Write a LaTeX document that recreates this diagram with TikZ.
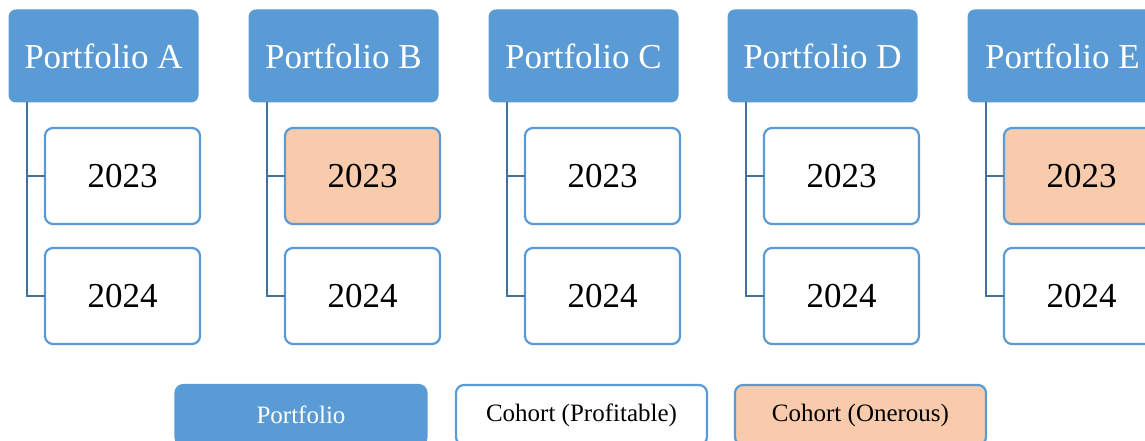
\documentclass[tikz,border=0pt]{standalone}
\usepackage{fontspec}
\setmainfont{Liberation Serif}
\usetikzlibrary{positioning}

\definecolor{portblue}{HTML}{5B9BD5}
\definecolor{linkblue}{HTML}{41719C}
\definecolor{onerous}{HTML}{F8CBAD}

\begin{document}
\begin{tikzpicture}[x=1pt,y=1pt,
      portfolio/.style={draw=portblue, fill=portblue, rounded corners=7pt, line width=1pt,
         minimum width=189pt, minimum height=92pt, outer sep=0pt, text=white,
         font=\fontsize{35}{40}\selectfont, align=center},
      cohort/.style={draw=portblue, fill=white, rounded corners=8pt, line width=2.2pt,
         minimum width=155pt, minimum height=96pt, outer sep=0pt,
         font=\fontsize{35}{40}\selectfont, align=center},
      bad/.style={cohort, fill=onerous},
      key/.style={draw=portblue, rounded corners=8pt, line width=2.2pt,
         minimum width=251pt, minimum height=60pt, outer sep=0pt,
         font=\fontsize{25}{30}\selectfont},
      link/.style={draw=linkblue, line width=2.8pt}
   ]
      \useasboundingbox (0,0) rectangle (1145,441);

      \node[portfolio] (PA) at (103.5,385) {Portfolio A};
      \node[portfolio] (PB) at (343.5,385) {Portfolio B};
      \node[portfolio] (PC) at (583.5,385) {Portfolio C};
      \node[portfolio] (PD) at (822.5,385) {Portfolio D};
      \node[portfolio] (PE) at (1062.5,385) {Portfolio E};

      \node[cohort, below right=26pt and 36pt of PA.south west, anchor=north west] (A23) {2023};
      \node[cohort, below=24pt of A23] (A24) {2024};
      \node[bad, below right=26pt and 36pt of PB.south west, anchor=north west] (B23) {2023};
      \node[cohort, below=24pt of B23] (B24) {2024};
      \node[cohort, below right=26pt and 36pt of PC.south west, anchor=north west] (C23) {2023};
      \node[cohort, below=24pt of C23] (C24) {2024};
      \node[cohort, below right=26pt and 36pt of PD.south west, anchor=north west] (D23) {2023};
      \node[cohort, below=24pt of D23] (D24) {2024};
      \node[bad, below right=26pt and 36pt of PE.south west, anchor=north west] (E23) {2023};
      \node[cohort, below=24pt of E23] (E24) {2024};

      \draw[link] ([xshift=18pt]PA.south west) |- (A24.west);
      \draw[link] ([xshift=18pt]PA.south west) |- (A23.west);
      \draw[link] ([xshift=18pt]PB.south west) |- (B24.west);
      \draw[link] ([xshift=18pt]PB.south west) |- (B23.west);
      \draw[link] ([xshift=18pt]PC.south west) |- (C24.west);
      \draw[link] ([xshift=18pt]PC.south west) |- (C23.west);
      \draw[link] ([xshift=18pt]PD.south west) |- (D24.west);
      \draw[link] ([xshift=18pt]PD.south west) |- (D23.west);
      \draw[link] ([xshift=18pt]PE.south west) |- (E24.west);
      \draw[link] ([xshift=18pt]PE.south west) |- (E23.west);

      % legend
      \node[key, fill=portblue, text=white] (KP) at (301,26) {Portfolio};
      \node[key, fill=white] (KG) at (581.5,26) {Cohort (Profitable)};
      \node[key, fill=onerous] (KO) at (860.5,26) {Cohort (Onerous)};
   \end{tikzpicture}
\end{document}
